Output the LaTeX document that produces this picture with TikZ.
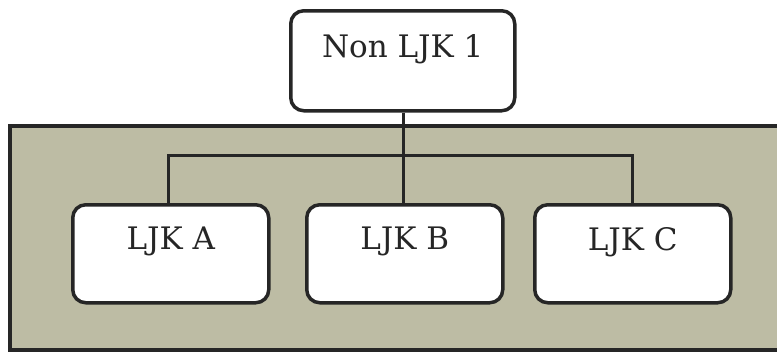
\documentclass[tikz,border=0pt]{standalone}
\usepackage{fontspec}
\setmainfont{DejaVu Serif}
\definecolor{panel}{RGB}{189,188,164}
\tikzset{
  box/.style={draw=black!85, line width=3.5pt, fill=white, rounded corners=13pt, anchor=north west, inner sep=0pt},
  lbl/.style={font=\fontsize{31}{33}\selectfont, text=black!85},
  wire/.style={draw=black!85, line width=3pt}
}
\begin{document}
\begin{tikzpicture}[x=1pt,y=-1pt]
\useasboundingbox (0,0) rectangle (777,354);
\fill[white] (0,0) rectangle (777,354);
\draw[line width=3.5pt, draw=black!85, fill=panel] (10,126) rectangle (790,350);
% boxes
\node[box, minimum width=224pt, minimum height=100pt] (top) at (289,9) {};
\node[box, minimum width=196pt, minimum height=98pt] (a) at (71,203) {};
\node[box, minimum width=196pt, minimum height=98pt] (b) at (305,203) {};
\node[box, minimum width=196pt, minimum height=98pt] (c) at (533,203) {};
% labels
\node[lbl] (tl) at ([yshift=12pt]top.center) {Non LJK 1};
\node[lbl] (al) at ([yshift=12pt]a.center) {LJK A};
\node[lbl] (bl) at ([yshift=12pt]b.center) {LJK B};
\node[lbl] (cl) at ([yshift=12pt]c.center) {LJK C};
% connectors
\coordinate (bus) at (403,155);
\draw[wire] (top.south -| bus) -- (b.north -| bus);
\draw[wire] (a.north -| 168,0) -- (168,155) -- (632,155) -- (c.north -| 632,0);
\end{tikzpicture}
\end{document}
